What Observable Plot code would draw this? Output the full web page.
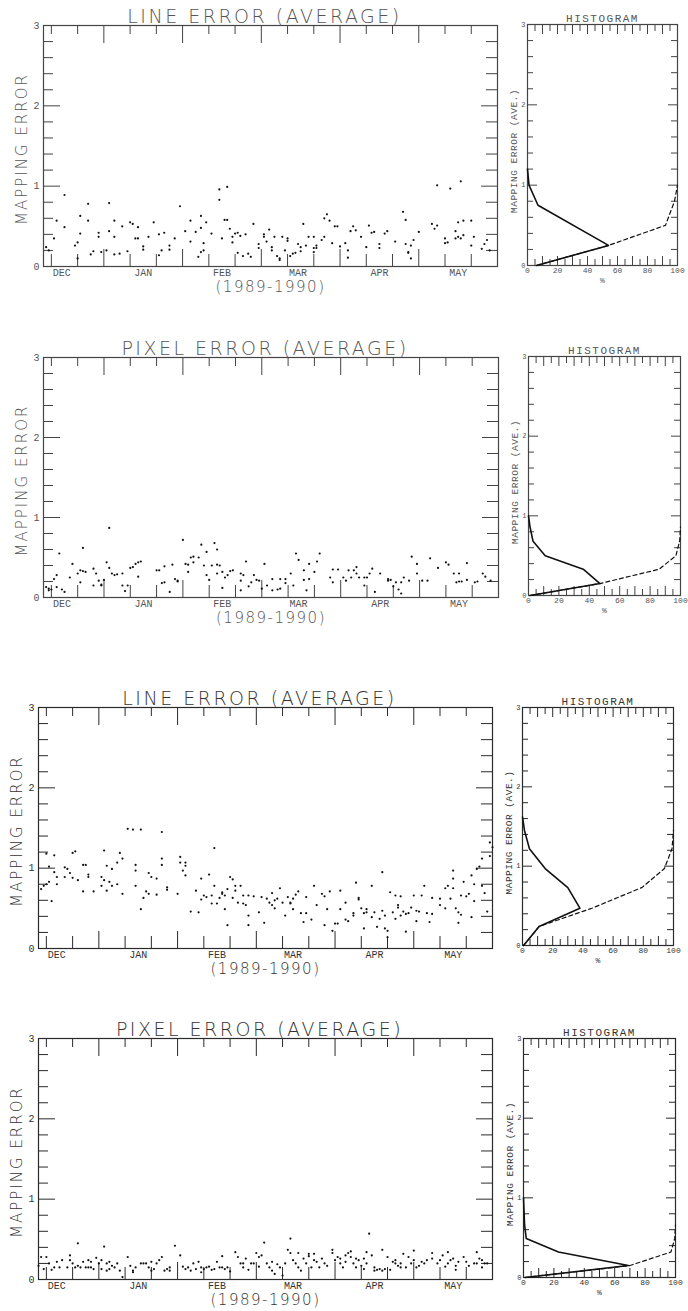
<!DOCTYPE html>
<html><head><meta charset="utf-8">
<script src="https://cdn.jsdelivr.net/npm/d3@7"></script>
<script src="https://cdn.jsdelivr.net/npm/@observablehq/plot@0.6"></script>
<style>
html,body{margin:0;padding:0;background:#fff;}
#root{position:relative;width:688px;height:1311px;overflow:hidden;background:#fff;}
#root svg{position:absolute;overflow:visible;}
</style></head><body><div id="root"></div>
<script>
// ---------- DATA ----------
// scatter points: [days after 9 Dec 1989, mapping error]
const lineErrorTop = [[1,.24],[2,.2],[4,.35],[5,.57],[8,.89],[8,.49],[12,.26],[13,.3],[13,.1],[14,.41],[14,.63],[17,.78],[17,.57],[18,.15],[19,.19],[21,.42],[21,.37],[22,.18],[24,.2],[25,.79],[25,.44],[27,.57],[27,.37],[27,.15],[29,.16],[30,.5],[32,.19],[33,.55],[34,.53],[35,.35],[36,.35],[36,.49],[38,.25],[38,.21],[40,.37],[42,.55],[44,.4],[44,.14],[45,.2],[46,.42],[48,.26],[48,.21],[50,.35],[52,.75],[54,.44],[56,.57],[56,.31],[58,.43],[59,.12],[60,.48],[60,.18],[60,.63],[61,.2],[61,.29],[62,.55],[64,.41],[67,.83],[67,.96],[70,.99],[68,.35],[69,.58],[70,.58],[71,.47],[72,.3],[72,.37],[73,.41],[74,.42],[75,.38],[74,.17],[76,.13],[77,.4],[78,.16],[79,.12],[80,.53],[82,.28],[82,.23],[84,.4],[84,.37],[85,.31],[86,.46],[87,.24],[87,.2],[88,.37],[89,.13],[90,.1],[90,.08],[91,.37],[92,.2],[93,.35],[93,.32],[94,.13],[95,.16],[96,.17],[97,.28],[98,.24],[98,.19],[99,.53],[100,.26],[101,.37],[103,.23],[103,.18],[103,.37],[104,.26],[104,.23],[106,.33],[107,.37],[107,.6],[108,.65],[109,.57],[110,.29],[111,.5],[112,.5],[113,.25],[115,.29],[116,.2],[116,.11],[117,.44],[118,.5],[119,.45],[121,.37],[123,.24],[124,.51],[125,.42],[126,.43],[128,.28],[128,.23],[130,.41],[131,.44],[134,.31],[137,.68],[138,.58],[138,.28],[139,.18],[139,.17],[140,.1],[140,.26],[141,.33],[143,.43],[148,.53],[149,.47],[150,.51],[150,1.01],[153,.35],[153,.29],[154,.3],[155,.97],[157,.35],[157,.44],[158,.37],[158,.55],[159,1.06],[159,.35],[160,.39],[160,.57],[163,.57],[163,.26],[164,.37],[167,.22],[168,.28],[169,.33],[170,.2]];

const pixelErrorTop = [[1,.13],[2,.11],[2,.09],[3,.1],[4,.23],[5,.28],[5,.13],[6,.55],[7,.1],[8,.07],[10,.25],[11,.42],[13,.3],[14,.19],[14,.34],[15,.62],[15,.33],[16,.32],[19,.15],[19,.36],[20,.3],[21,.21],[22,.16],[22,.15],[23,.22],[24,.44],[25,.87],[25,.37],[26,.3],[27,.28],[28,.29],[30,.3],[30,.15],[31,.08],[32,.15],[33,.37],[34,.38],[35,.42],[36,.44],[37,.45],[36,.26],[43,.34],[44,.34],[45,.18],[46,.19],[46,.39],[48,.07],[49,.41],[50,.23],[51,.2],[51,.21],[53,.72],[54,.42],[55,.32],[55,.41],[56,.5],[57,.44],[57,.51],[59,.5],[60,.66],[61,.4],[62,.28],[62,.57],[63,.22],[64,.4],[65,.68],[66,.6],[66,.41],[66,.3],[67,.4],[68,.12],[68,.32],[69,.25],[70,.28],[71,.33],[72,.34],[75,.3],[75,.21],[75,.09],[76,.28],[77,.45],[78,.14],[79,.19],[80,.28],[81,.22],[82,.21],[83,.11],[84,.42],[85,.15],[87,.23],[87,.09],[89,.1],[90,.23],[90,.11],[92,.23],[92,.18],[94,.3],[95,.15],[96,.55],[97,.47],[99,.22],[99,.34],[100,.09],[101,.23],[101,.42],[103,.32],[104,.45],[105,.55],[109,.25],[110,.35],[110,.19],[112,.35],[114,.25],[115,.21],[116,.34],[117,.25],[118,.34],[119,.38],[119,.3],[120,.25],[122,.25],[122,.15],[123,.25],[124,.3],[125,.36],[126,.07],[128,.3],[131,.21],[131,.23],[132,.22],[133,.14],[134,.19],[135,.1],[136,.19],[136,.05],[137,.25],[139,.21],[140,.51],[142,.42],[142,.3],[144,.21],[146,.21],[147,.49],[150,.37],[153,.44],[154,.41],[156,.3],[157,.19],[158,.3],[158,.2],[159,.2],[161,.43],[161,.22],[164,.19],[165,.2],[167,.3],[168,.26],[170,.21]];

const lineErrorBottom = [[1,.74],[2,.78],[3,.8],[3,1.18],[4,1.02],[4,.83],[5,.59],[6,1.16],[6,.95],[7,.89],[7,.8],[10,.89],[10,1.01],[11,.99],[12,.94],[13,1.19],[13,.88],[14,1.21],[15,.85],[17,.71],[17,1.04],[18,1.04],[19,.92],[19,.89],[21,.71],[24,.78],[24,.89],[25,1.22],[25,.85],[26,1.03],[26,.72],[27,.83],[28,.99],[28,.78],[30,1.07],[30,.8],[31,1.19],[32,1.12],[32,.68],[34,1.49],[36,1.48],[37,.97],[37,1.04],[37,.78],[39,1.48],[39,.49],[40,.63],[41,.71],[42,.94],[42,.68],[43,.89],[45,.87],[45,.67],[47,1.45],[47,1.12],[47,1.04],[49,.76],[49,.73],[53,.68],[54,1.14],[54,1.07],[55,.97],[56,.91],[56,1.07],[56,1.03],[58,.46],[60,.72],[61,.45],[62,.61],[62,.87],[63,.66],[64,.64],[65,.92],[66,.56],[66,.66],[67,1.25],[67,.78],[68,.56],[69,.63],[70,.7],[70,.68],[71,.66],[71,.49],[72,.29],[72,.74],[73,.89],[74,.63],[74,.86],[75,.78],[75,.72],[76,.57],[77,.78],[78,.66],[78,.56],[79,.54],[80,.29],[80,.66],[80,.41],[82,.65],[84,.45],[85,.64],[86,.32],[87,.62],[88,.57],[89,.69],[89,.54],[90,.5],[90,.6],[91,.62],[92,.75],[93,.57],[94,.41],[95,.64],[96,.57],[96,.56],[97,.62],[97,.49],[98,.67],[99,.71],[100,.44],[101,.33],[102,.44],[102,.64],[104,.36],[105,.78],[106,.54],[108,.68],[109,.29],[109,.65],[110,.49],[111,.71],[112,.22],[113,.31],[114,.31],[115,.72],[115,.49],[117,.57],[117,.36],[118,.34],[120,.44],[120,.41],[121,.82],[122,.63],[122,.61],[123,.5],[124,.44],[124,.25],[125,.45],[125,.49],[127,.78],[127,.39],[128,.45],[129,.27],[130,.37],[131,.95],[131,.47],[132,.25],[132,.41],[133,.22],[133,.14],[134,.7],[135,.45],[136,.66],[136,.37],[137,.51],[137,.54],[138,.65],[138,.41],[139,.46],[140,.21],[140,.43],[141,.44],[142,.51],[143,.66],[144,.34],[144,.47],[145,.46],[146,.66],[147,.78],[148,.44],[149,.33],[150,.43],[150,.63],[153,.54],[153,.62],[155,.75],[155,.5],[156,.78],[157,.62],[158,.97],[158,.87],[158,.75],[159,.5],[160,.45],[160,.32],[161,.42],[161,.66],[162,.83],[163,.65],[164,.68],[165,.39],[165,.91],[166,.59],[166,.8],[167,.99],[168,1.02],[169,1.12],[169,.78],[170,.69],[171,.46],[172,1.15],[172,1.32],[173,1.26]];

const pixelErrorBottom = [[0,.17],[1,.28],[2,.13],[3,.28],[4,.2],[5,.12],[6,.15],[7,.22],[8,.15],[9,.24],[11,.15],[12,.24],[12,.3],[13,.2],[14,.15],[15,.17],[15,.45],[16,.15],[17,.22],[18,.15],[19,.24],[19,.15],[20,.22],[20,.15],[21,.13],[22,.27],[23,.2],[24,.13],[24,.24],[25,.41],[26,.2],[26,.11],[27,.22],[27,.13],[28,.17],[29,.15],[30,.2],[31,.11],[32,.03],[34,.28],[35,.17],[36,.11],[36,.09],[37,.15],[39,.2],[40,.2],[41,.2],[42,.15],[43,.11],[43,.22],[44,.13],[45,.2],[46,.24],[47,.28],[48,.11],[49,.13],[50,.11],[50,.15],[52,.42],[54,.3],[55,.16],[56,.13],[57,.15],[58,.11],[59,.2],[60,.13],[61,.22],[62,.15],[62,.09],[63,.13],[64,.15],[65,.16],[66,.12],[67,.13],[68,.22],[69,.15],[70,.29],[70,.15],[71,.13],[72,.15],[73,.1],[75,.34],[76,.28],[77,.2],[78,.2],[78,.15],[79,.26],[80,.12],[81,.2],[82,.2],[83,.33],[84,.28],[84,.16],[85,.3],[86,.46],[87,.2],[88,.15],[89,.22],[89,.11],[90,.07],[91,.19],[92,.15],[93,.05],[94,.2],[95,.37],[96,.33],[96,.51],[97,.24],[98,.2],[99,.33],[99,.15],[100,.11],[101,.26],[102,.2],[103,.29],[103,.32],[104,.15],[105,.24],[105,.32],[106,.22],[107,.15],[108,.26],[109,.2],[110,.17],[112,.37],[112,.33],[113,.24],[114,.28],[115,.2],[115,.26],[116,.15],[117,.3],[117,.22],[118,.33],[119,.35],[119,.28],[120,.2],[121,.26],[121,.15],[122,.24],[123,.17],[124,.26],[124,.13],[125,.34],[125,.2],[126,.57],[127,.3],[128,.11],[128,.15],[129,.12],[130,.13],[131,.37],[131,.11],[132,.13],[133,.28],[134,.12],[135,.22],[136,.2],[136,.24],[137,.17],[138,.2],[138,.15],[139,.32],[140,.15],[141,.28],[142,.2],[143,.24],[143,.36],[144,.15],[145,.17],[146,.22],[147,.2],[148,.24],[150,.33],[150,.26],[152,.2],[153,.24],[154,.3],[155,.16],[156,.34],[156,.2],[157,.24],[158,.26],[159,.12],[159,.17],[160,.22],[162,.28],[163,.22],[164,.17],[166,.2],[167,.2],[167,.34],[168,.26],[169,.24],[169,.15],[170,.2],[171,.2]];

// histograms: [percent, mapping error]
const histLineTop   = [[6,0],[54,.25],[7,.75],[1,1.0],[0,1.2]];
const cumLineTop    = [[6,0],[54,.25],[92,.5],[98,.8],[100,1.0]];
const histPixelTop  = [[1,0],[47,.15],[36,.33],[11,.5],[3,.68],[1,.86],[0,1.0]];
const cumPixelTop   = [[1,0],[47,.15],[86,.33],[97,.5],[99.5,.69],[100,.86]];
const histLineBot   = [[0.7,0],[11,.24],[38,.47],[30,.73],[15,.97],[4.6,1.22],[1.3,1.45],[0,1.62]];
const cumLineBot    = [[0.7,0],[11,.24],[46,.47],[79,.73],[94,.97],[99,1.22],[100,1.45]];
const histPixelBot  = [[1,0],[69,.15],[23,.32],[1.8,.49],[0.7,.66],[0,1.0]];
const cumPixelBot   = [[1,0],[70,.15],[97,.32],[99.5,.49],[100,.66]];

// tick labels
const monthLabels = ["DEC","JAN","FEB","MAR","APR","MAY"];
const monthMid = ["1989-12-16","1990-01-16","1990-02-15","1990-03-16","1990-04-16","1990-05-16"];
const yTickLabels = [0,1,2,3];
const histXTickLabels = [0,20,40,60,80,100];
const tickDays = d3.range(3, 170, 10);   // 10-day tick marks
const seasonStart = "1989-12-09", seasonEnd = "1990-05-31";

// ---------- HELPERS ----------
const FONT = "'Liberation Mono','DejaVu Sans Mono',monospace";
const THIN = "'DejaVu Sans','Liberation Sans',sans-serif";
const t0 = +new Date(seasonStart);
const toDate = d => new Date(t0 + d * 86400000);
const monthDates = monthMid.map(s => new Date(s));
const monthMap = new Map(monthDates.map((d, i) => [+d, monthLabels[i]]));
const shortDays = tickDays.filter(d => (d - 23) % 30 !== 0).map(toDate);
const longDays = tickDays.filter(d => (d - 23) % 30 === 0).map(toDate);
const yMinor = d3.range(0.2, 3, 0.2).filter(v => Math.abs(v - Math.round(v)) > 1e-6);
const yMajor = [1, 2];
const hMinor = d3.range(5, 100, 10);
const hMajor = d3.range(10, 100, 10);
const blank = () => "";
const intFmt = d => String(d);

const root = document.getElementById("root");

function spacing(svg, map) {
  d3.select(svg).selectAll("text").each(function () {
    const s = map[this.textContent];
    if (s) this.setAttribute("letter-spacing", s);
  });
}

function scatter(r) {
  const mt = 25, mb = 38;
  const svg = Plot.plot({
    width: 500, height: mt + r.sh + mb,
    marginLeft: r.sl, marginRight: 500 - r.sr, marginTop: mt, marginBottom: mb,
    style: {fontFamily: FONT, color: r.ink, background: "transparent", overflow: "visible"},
    x: {type: "utc", domain: [new Date(seasonStart), new Date(seasonEnd)]},
    y: {domain: [0, 3]},
    marks: [
      Plot.frame({stroke: r.ink, strokeWidth: 1.2}),
      Plot.axisY(yMinor, {anchor: "left", tickSize: -10, tickFormat: blank, label: null}),
      Plot.axisY(yMajor, {anchor: "left", tickSize: -17, tickFormat: blank, label: null}),
      Plot.axisY(yMinor, {anchor: "right", tickSize: -12, tickFormat: blank, label: null}),
      Plot.axisY(yMajor, {anchor: "right", tickSize: -17, tickFormat: blank, label: null}),
      Plot.axisX(shortDays, {anchor: "top", tickSize: -8, tickFormat: blank, label: null}),
      Plot.axisX(longDays, {anchor: "top", tickSize: -17, tickFormat: blank, label: null}),
      Plot.axisX(shortDays, {anchor: "bottom", tickSize: -12, tickFormat: blank, label: null}),
      Plot.axisX(longDays, {anchor: "bottom", tickSize: -17, tickFormat: blank, label: null}),
      Plot.axisY(yTickLabels, {anchor: "left", tickSize: 0, tickPadding: 4, fontSize: 10, fill: r.txt, label: null, tickFormat: intFmt}),
      Plot.axisX(monthDates, {anchor: "bottom", tickSize: 0, tickPadding: 2, fontSize: 10, fill: r.txt, label: null, tickFormat: d => monthMap.get(+d)}),
      Plot.dot(r.data, {x: d => toDate(d[0]), y: d => d[1], r: 1.1, fill: "#111", stroke: null}),
      Plot.text([r.title], {text: d => d, frameAnchor: "top", textAnchor: "middle", lineAnchor: "middle", dy: -9, dx: -6, fontSize: 19, fontWeight: 200, fontFamily: THIN, fill: r.txt}),
      Plot.text(["(1989-1990)"], {text: d => d, frameAnchor: "bottom", textAnchor: "middle", lineAnchor: "middle", dy: 21, fontSize: 15, fontWeight: 200, fontFamily: THIN, fill: r.txt}),
      Plot.text(["MAPPING ERROR"], {text: d => d, frameAnchor: "left", textAnchor: "middle", lineAnchor: "middle", dx: -21, dy: 3, rotate: -90, fontSize: 15, fontWeight: 200, fontFamily: THIN, fill: r.txt})
    ]
  });
  spacing(svg, {[r.title]: "2.5px", "(1989-1990)": "1.5px", "MAPPING ERROR": "2px"});
  svg.style.left = "0px";
  svg.style.top = (r.st - mt) + "px";
  root.appendChild(svg);
}

function hist(r) {
  const mt = 25, mb = 30, x0 = 490, W = 198;
  const svg = Plot.plot({
    width: W, height: mt + r.hh + mb,
    marginLeft: r.hl - x0, marginRight: x0 + W - r.hr, marginTop: mt, marginBottom: mb,
    style: {fontFamily: FONT, color: r.ink, background: "transparent", overflow: "visible"},
    x: {domain: [0, 100]},
    y: {domain: [0, 3]},
    marks: [
      Plot.frame({stroke: r.ink, strokeWidth: 1.2}),
      Plot.axisX(hMinor, {anchor: "top", tickSize: -6, tickFormat: blank, label: null}),
      Plot.axisX(hMajor, {anchor: "top", tickSize: -9, tickFormat: blank, label: null}),
      Plot.axisX(hMinor, {anchor: "bottom", tickSize: -6, tickFormat: blank, label: null}),
      Plot.axisX(hMajor, {anchor: "bottom", tickSize: -9, tickFormat: blank, label: null}),
      Plot.axisY(yMinor, {anchor: "left", tickSize: -6, tickFormat: blank, label: null}),
      Plot.axisY(yMajor, {anchor: "left", tickSize: -10, tickFormat: blank, label: null}),
      Plot.axisY(yMinor, {anchor: "right", tickSize: -7, tickFormat: blank, label: null}),
      Plot.axisY(yMajor, {anchor: "right", tickSize: -10, tickFormat: blank, label: null}),
      Plot.axisY(yTickLabels, {anchor: "left", tickSize: 0, tickPadding: 2, fontSize: 7, fill: r.txt, label: null, tickFormat: intFmt}),
      Plot.axisX(histXTickLabels, {anchor: "bottom", tickSize: 0, tickPadding: 2, fontSize: 8, fill: r.txt, label: null, tickFormat: intFmt}),
      Plot.line(r.cum, {x: d => d[0], y: d => d[1], stroke: "#111", strokeWidth: 1.2, strokeDasharray: "4,3"}),
      Plot.line(r.freq, {x: d => d[0], y: d => d[1], stroke: "#111", strokeWidth: 1.6}),
      Plot.text(["HISTOGRAM"], {text: d => d, frameAnchor: "top", textAnchor: "middle", lineAnchor: "middle", dy: -6, fontSize: 11, fill: r.txt}),
      Plot.text(["MAPPING ERROR (AVE.)"], {text: d => d, frameAnchor: "left", textAnchor: "middle", lineAnchor: "middle", dx: -14, dy: 6, rotate: -90, fontSize: 9.5, fill: r.txt}),
      Plot.text(["%"], {text: d => d, frameAnchor: "bottom", textAnchor: "middle", lineAnchor: "middle", dy: 15, fontSize: 8, fill: r.txt})
    ]
  });
  spacing(svg, {"HISTOGRAM": "1.5px", "MAPPING ERROR (AVE.)": "0.5px"});
  svg.style.left = x0 + "px";
  svg.style.top = (r.ht - mt) + "px";
  root.appendChild(svg);
}

const rows = [
  {data: lineErrorTop, title: "LINE ERROR (AVERAGE)", freq: histLineTop, cum: cumLineTop,
   sl: 43, sr: 497, st: 25, sh: 241, hl: 527, hr: 677, ht: 24, hh: 241, ink: "#444", txt: "#555"},
  {data: pixelErrorTop, title: "PIXEL ERROR (AVERAGE)", freq: histPixelTop, cum: cumPixelTop,
   sl: 43, sr: 498, st: 357, sh: 240, hl: 528, hr: 680, ht: 356, hh: 239, ink: "#444", txt: "#555"},
  {data: lineErrorBottom, title: "LINE ERROR (AVERAGE)", freq: histLineBot, cum: cumLineBot,
   sl: 38, sr: 492, st: 707, sh: 241, hl: 522, hr: 673, ht: 707, hh: 238, ink: "#2a2a2a", txt: "#333"},
  {data: pixelErrorBottom, title: "PIXEL ERROR (AVERAGE)", freq: histPixelBot, cum: cumPixelBot,
   sl: 38, sr: 492, st: 1038, sh: 241, hl: 523, hr: 675, ht: 1038, hh: 239, ink: "#2a2a2a", txt: "#333"}
];
rows.forEach(r => { scatter(r); hist(r); });
</script>
</body></html>
